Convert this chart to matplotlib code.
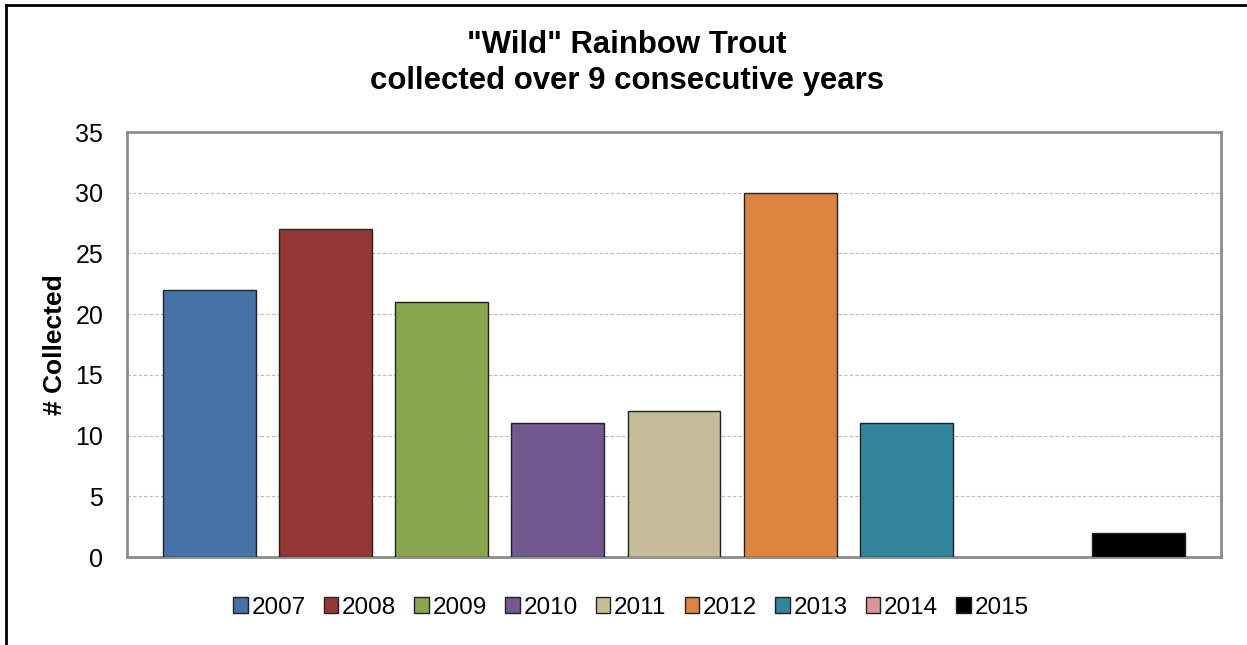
import numpy as np
import matplotlib.pyplot as plt
from matplotlib.lines import Line2D

plt.rcParams['font.family'] = ['Liberation Sans', 'DejaVu Sans']

years = ['2007', '2008', '2009', '2010', '2011', '2012', '2013', '2014', '2015']
collected = [22, 27, 21, 11, 12, 30, 11, 0, 2]
colors = ['#4572A7', '#953735', '#89A54E', '#71588F', '#C4BD97',
          '#DB843D', '#31859C', '#D99694', '#000000']

fig = plt.figure(figsize=(12.47, 6.45), dpi=100)
ax = fig.add_axes([0.1018, 0.1364, 0.8774, 0.6589])

x = np.arange(len(years))
handles = []
for i in range(len(years)):
    lw = 1 if collected[i] > 0 else 0
    b = ax.bar(x[i], collected[i], width=0.8, color=colors[i],
               edgecolor='#222222', linewidth=lw, zorder=3, label=years[i])
    handles.append(b)

ax.set_xlim(-0.71, 8.71)
ax.set_ylim(0, 35)
ax.set_yticks(range(0, 36, 5))
ax.set_xticks([])
ax.tick_params(axis='y', labelsize=18, length=0, pad=17)
ax.yaxis.grid(True, linestyle=(0, (3, 2)), color='#BBBBBB', linewidth=0.8, zorder=0)
for s in ax.spines.values():
    s.set_color('#8C8C8C')
    s.set_linewidth(2)

ax.set_ylabel('# Collected', fontsize=19, fontweight='bold', labelpad=6)

fig.text(0.503, 0.93, '"Wild" Rainbow Trout', ha='center', va='center',
         fontsize=22.4, fontweight='bold')
fig.text(0.503, 0.875, 'collected over 9 consecutive years', ha='center',
         va='center', fontsize=22.4, fontweight='bold')

leg_handles = [plt.Rectangle((0, 0), 1, 1, facecolor=c, edgecolor='#222222', linewidth=1)
               for c in colors]
fig.legend(handles=leg_handles, labels=years, loc='center', bbox_to_anchor=(0.506, 0.058),
           ncol=9, frameon=False, fontsize=17.5, handlelength=0.6, handleheight=0.6,
           handletextpad=0.15, columnspacing=0.75)

# outer border (left and top only visible)
fig.add_artist(Line2D([0.005, 0.005], [0, 0.992], color='black', lw=2, transform=fig.transFigure))
fig.add_artist(Line2D([0.005, 1], [0.992, 0.992], color='black', lw=2, transform=fig.transFigure))

fig.savefig('out.png', dpi=100)
